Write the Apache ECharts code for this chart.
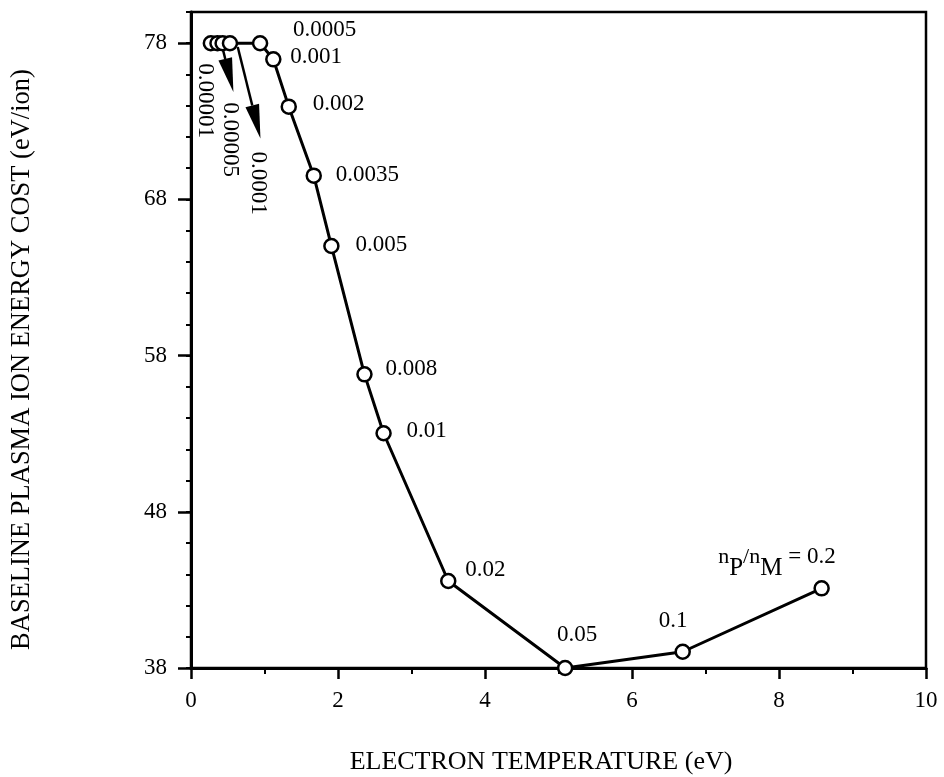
<!DOCTYPE html>
<html><head><meta charset="utf-8">
<script src="https://cdn.jsdelivr.net/npm/echarts@6/dist/echarts.min.js"></script>
<style>html,body{margin:0;padding:0;background:#fff}#c{width:944px;height:777px}</style>
</head><body><div id="c"></div>
<script>
// ---- data ----
const ratioLabels  = ['0.00001', '', '0.00005', '0.0001', '0.0005', '0.001', '0.002', '0.0035', '0.005', '0.008', '0.01', '0.02', '0.05', '0.1', '0.2'];
const electronTemp = [0.27, 0.36, 0.43, 0.53, 0.94, 1.12, 1.33, 1.67, 1.91, 2.36, 2.62, 3.50, 5.09, 6.69, 8.58];
const ionCost      = [78, 78, 78, 78, 78, 76.97, 73.94, 69.52, 65.02, 56.8, 53.03, 43.57, 38.0, 39.04, 43.1];
const xTickLabels  = [0, 2, 4, 6, 8, 10];
const yTickLabels  = [38, 48, 58, 68, 78];
const xTitle = 'ELECTRON TEMPERATURE (eV)';
const yTitle = 'BASELINE PLASMA ION ENERGY COST (eV/ion)';

// ---- styling / placement ----
const FONT = "'Liberation Serif', 'Times New Roman', serif";
const LBL = 23;
const place = { // [align, dx, dy] in px relative to the marker
  '0.0005': ['left', 33, -13],
  '0.001':  ['left', 17, -2],
  '0.002':  ['left', 24, -2.5],
  '0.0035': ['left', 22, -1],
  '0.005':  ['left', 24, -1],
  '0.008':  ['left', 21, -5],
  '0.01':   ['left', 23, -2.5],
  '0.02':   ['left', 17, -11],
  '0.05':   ['center', 12, -33],
  '0.1':    ['center', -9.5, -31],
  '0.2':    ['right', 14, -31]
};
const rotatedLabels = { '0.00001': [-6, 57.5], '0.00005': [7.5, 96.5], '0.0001': [28, 140] };
const arrows = { '0.00005': [[0.5, 7], [10.8, 48.7]], '0.0001': [[7.8, 3.7], [30.5, 95.3]] };

const chart = echarts.init(document.getElementById('c'), null, { renderer: 'canvas' });

const data = electronTemp.map((x, i) => {
  const lab = ratioLabels[i];
  const item = { value: [x, ionCost[i]] };
  const p = place[lab];
  if (p) {
    item.label = { show: true, position: 'inside', align: p[0], verticalAlign: 'middle', offset: [p[1], p[2]] };
    if (i === electronTemp.length - 1) {
      item.label.formatter = '{n|n}{s|P}{n|/n}{s|M}{t| = ' + lab + '}';
    }
  }
  return item;
});

chart.setOption({
  animation: false,
  backgroundColor: '#fff',
  grid: { left: 191, right: 18, top: 12, bottom: 109, show: true, borderColor: '#000', borderWidth: 2.5 },
  xAxis: {
    type: 'value', min: 0, max: 10, interval: 2,
    axisLine: { show: true, lineStyle: { color: '#000', width: 3 } },
    axisTick: { show: true, length: 11, lineStyle: { color: '#000', width: 2.5 } },
    minorTick: { show: true, splitNumber: 2, length: 6, lineStyle: { color: '#000', width: 2 } },
    axisLabel: { show: true, customValues: xTickLabels, margin: 21, fontSize: LBL, fontFamily: FONT, color: '#000' },
    splitLine: { show: false }, minorSplitLine: { show: false }
  },
  yAxis: [
    {
      type: 'value', min: 38, max: 80, interval: 2,
      axisLine: { show: true, lineStyle: { color: '#000', width: 3 } },
      axisTick: { show: true, length: 5, lineStyle: { color: '#000', width: 2 } },
      axisLabel: { show: false },
      splitLine: { show: false }
    },
    {
      type: 'value', min: 38, max: 80, position: 'left',
      axisLine: { show: false },
      axisTick: { show: true, length: 13, customValues: yTickLabels, lineStyle: { color: '#000', width: 2.5 } },
      axisLabel: { show: true, customValues: yTickLabels, margin: 24, fontSize: LBL, fontFamily: FONT, color: '#000' },
      splitLine: { show: false }
    }
  ],
  series: [{
    type: 'line',
    yAxisIndex: 0,
    data: data,
    symbol: 'circle',
    symbolSize: 14,
    itemStyle: { color: '#fff', borderColor: '#000', borderWidth: 2.5 },
    lineStyle: { color: '#000', width: 3 },
    label: {
      show: false, color: '#000', fontSize: LBL, fontFamily: FONT,
      formatter: (p) => ratioLabels[p.dataIndex],
      rich: {
        n: { fontSize: 22, fontFamily: FONT, color: '#000' },
        s: { fontSize: 25, fontFamily: FONT, color: '#000', padding: [22, 0, 0, 0] },
        t: { fontSize: LBL, fontFamily: FONT, color: '#000' }
      }
    },
    emphasis: { disabled: true },
    z: 3
  }]
});

// ---- annotations (titles, rotated labels, arrows) ----
const gfx = [];
gfx.push({ type: 'text', x: 541, y: 762, z: 100,
  style: { text: xTitle, fontSize: 26, fontFamily: FONT, fill: '#000', align: 'center', verticalAlign: 'middle' } });
gfx.push({ type: 'text', x: 22, y: 359.5, rotation: Math.PI / 2, z: 100,
  style: { text: yTitle, fontSize: 26.5, fontFamily: FONT, fill: '#000', align: 'center', verticalAlign: 'middle' } });

electronTemp.forEach((x, i) => {
  const lab = ratioLabels[i];
  const pt = chart.convertToPixel({ seriesIndex: 0 }, [x, ionCost[i]]);
  const r = rotatedLabels[lab];
  if (r) {
    gfx.push({ type: 'text', x: pt[0] + r[0], y: pt[1] + r[1], rotation: -Math.PI / 2, z: 100,
      style: { text: lab, fontSize: LBL, fontFamily: FONT, fill: '#000', align: 'center', verticalAlign: 'middle' } });
  }
  const a = arrows[lab];
  if (a) {
    const tx = pt[0] + a[0][0], ty = pt[1] + a[0][1];
    const hx = pt[0] + a[1][0], hy = pt[1] + a[1][1];
    const L = Math.hypot(hx - tx, hy - ty);
    const dx = (hx - tx) / L, dy = (hy - ty) / L;
    const headLen = 34, headW = 7;
    const bx = hx - dx * headLen, by = hy - dy * headLen;
    gfx.push({ type: 'line', z: 100, shape: { x1: tx, y1: ty, x2: bx, y2: by }, style: { stroke: '#000', lineWidth: 2.5 } });
    gfx.push({ type: 'polygon', z: 100,
      shape: { points: [[hx, hy], [bx - dy * headW, by + dx * headW], [bx + dy * headW, by - dx * headW]] },
      style: { fill: '#000' } });
  }
});
chart.setOption({ graphic: gfx });
</script>
</body></html>
